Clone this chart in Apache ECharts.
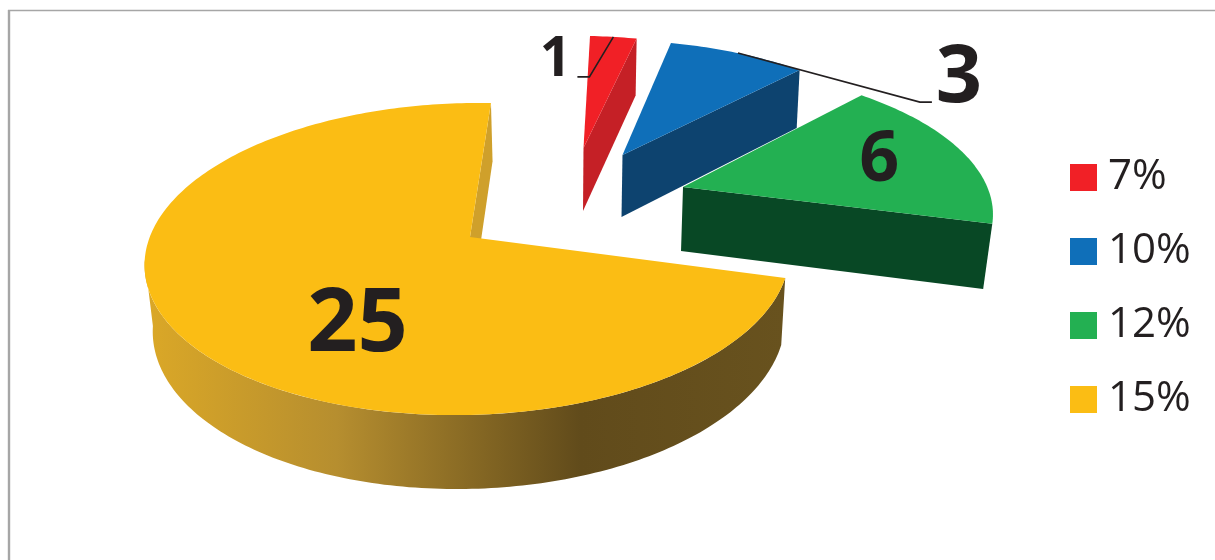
<!DOCTYPE html>
<html>
<head>
<meta charset="utf-8">
<style>html,body{margin:0;padding:0;background:#fff}#chart{width:1215px;height:560px}</style>
<script src="https://cdn.jsdelivr.net/npm/echarts@6/dist/echarts.min.js"></script>
</head>
<body>
<div id="chart"></div>
<script>
// ---- data ----
var categories = ['7%', '10%', '12%', '15%'];
var values = [1, 3, 6, 25];
// ---- styles ----
var topColors = ['#f12026', '#0f6fb9', '#23b052', '#fbbd14'];
var cutColors = ['#c52026', '#0d436f', '#084825', '#cfa02b'];
var wallStops = [
  { offset: 0, color: '#dba827' }, { offset: 0.3, color: '#b68e2f' },
  { offset: 0.68, color: '#614b1b' }, { offset: 1, color: '#68521e' }
];
// ---- layout of the perspective projection, per slice ----
// ax,ay apex of top face; a,b,c,d plane axes; k,m perspective; bx,by apex of base; f,g base scale
var layouts = [
  { ax: 583.5, ay: 148, a: 300, b: -5.6, c: -1.7, d: 129, k: 0.15, m: 0, bx: 583, by: 211, f: 0.99, g: 1.055 },
  { ax: 622.5, ay: 155, a: 295, b: -10, c: -2, d: 132, k: 0.15, m: 0, bx: 621.5, by: 217, f: 0.989, g: 1.047 },
  { ax: 683, ay: 187, a: 303.6, b: -16, c: 1.5, d: 139, k: 0.15, m: 0, bx: 681, by: 251, f: 0.977, g: 1.03 },
  { ax: 470, ay: 237, a: 319, b: 10, c: 1, d: 153, k: 0.141, m: 0.005, bx: 472, by: 302, f: 0.981, g: 1.05 }
];
var labelLayouts = [
  { r: 1, dx: -58, dy: 23, size: 55, leader: [[-24, 40], [-36, 40]] },
  { r: 1, dx: 221, dy: 26, size: 81, leader: [[182, 49], [194, 49]] },
  { r: 0.7, dx: 0, dy: 0, size: 70 },
  { r: 0.45, dx: 11, dy: 46, size: 88 }
];
var startAngle = 2.5;
var total = values.reduce(function (s, v) { return s + v; }, 0);
var RAD = Math.PI / 180;

function project(L, deg, r) {
  var X = Math.sin(deg * RAD) * r, Y = Math.cos(deg * RAD) * r;
  var s = 1 / (1 + L.k * Y + L.m * X);
  return [L.ax + (L.a * X + L.b * Y) * s, L.ay - (L.c * X + L.d * Y) * s];
}
function base(L, p) {
  return [L.bx + (p[0] - L.ax) * L.f, L.by + (p[1] - L.ay) * L.g];
}
function arc(L, from, to) {
  var pts = [], n = Math.max(2, Math.ceil(Math.abs(to - from)));
  for (var i = 0; i <= n; i++) pts.push(project(L, from + (to - from) * i / n, 1));
  return pts;
}
function renderSlice(idx) {
  return function (params, api) {
    var before = 0;
    for (var i = 0; i < idx; i++) before += values[i];
    var from = startAngle + before / total * 360;
    var to = from + api.value(0) / total * 360;
    var L = layouts[idx], LL = labelLayouts[idx], kids = [];
    var apex = [L.ax, L.ay];
    // outer wall: the near half of the rim, up to the left silhouette
    var w0 = Math.max(from, 90), w1 = Math.min(to, 262);
    if (w1 > w0 && to - from > 180) {
      var rim = arc(L, w0, w1);
      var wall = rim.concat(rim.slice().reverse().map(function (p) { return base(L, p); }));
      kids.push({
        type: 'polygon', shape: { points: wall },
        style: { fill: { type: 'linear', x: 145, y: 0, x2: 785, y2: 0, global: true, colorStops: wallStops } }
      });
    }
    // cut face at the end angle
    var endPt = project(L, to, 1);
    kids.push({
      type: 'polygon', shape: { points: [apex, endPt, base(L, endPt), [L.bx, L.by]] },
      style: { fill: cutColors[idx] }
    });
    // top face
    kids.push({
      type: 'polygon', shape: { points: [apex].concat(arc(L, from, to)) },
      style: { fill: topColors[idx] }
    });
    // label + leader
    var anchor = project(L, (from + to) / 2, LL.r);
    if (LL.leader) {
      var pts = [anchor].concat(LL.leader.map(function (o) { return [anchor[0] + o[0], anchor[1] + o[1]]; }));
      kids.push({ type: 'polyline', shape: { points: pts }, style: { fill: 'none', stroke: '#231f20', lineWidth: 1.6 } });
    }
    kids.push({
      type: 'text',
      style: {
        x: anchor[0] + LL.dx, y: anchor[1] + LL.dy, text: String(api.value(0)),
        fill: '#231f20', fontFamily: 'Open Sans', fontWeight: 'bold', fontSize: LL.size,
        align: 'center', verticalAlign: 'middle'
      }
    });
    return { type: 'group', children: kids };
  };
}

var chart = echarts.init(document.getElementById('chart'), null, { renderer: 'canvas' });
chart.setOption({
  animation: false,
  backgroundColor: '#ffffff',
  legend: {
    orient: 'vertical', left: 1070, top: 156.5, padding: 0,
    itemWidth: 27, itemHeight: 27, itemGap: 32, icon: 'rect', selectedMode: false,
    data: categories,
    textStyle: { fontFamily: 'Open Sans', fontSize: 42, color: '#231f20', lineHeight: 27, padding: [0, 0, 0, 6] }
  },
  graphic: [
    { type: 'line', shape: { x1: 9, y1: 10, x2: 9, y2: 560 }, style: { stroke: '#a6a6a6', lineWidth: 2.4 } },
    { type: 'line', shape: { x1: 8, y1: 10.5, x2: 1215, y2: 10.5 }, style: { stroke: '#a6a6a6', lineWidth: 1.4 } }
  ],
  series: categories.map(function (name, i) {
    return {
      type: 'custom', name: name, coordinateSystem: 'none',
      itemStyle: { color: topColors[i] },
      data: [[values[i]]],
      renderItem: renderSlice(i),
      silent: true
    };
  })
});
</script>
</body>
</html>
